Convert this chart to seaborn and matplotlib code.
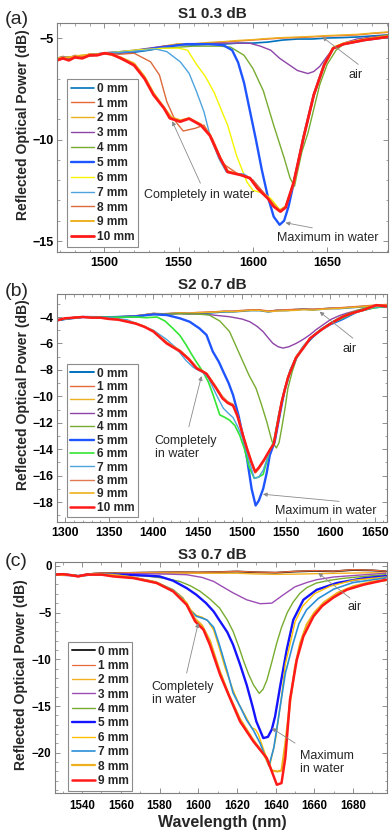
import matplotlib
matplotlib.use('Agg')
import pandas as pd
import matplotlib.pyplot as plt
from matplotlib.ticker import MultipleLocator
import seaborn as sns

## ---------------- panel (a): S1 0.3 dB ----------------
A_WL_AIR = [1468, 1472, 1476, 1480, 1485, 1490, 1495, 1500, 1510, 1520, 1530, 1540, 1550, 1560,
            1570, 1580, 1590, 1600, 1610, 1620, 1630, 1640, 1650, 1660, 1670, 1680, 1691]
A_DB_0MM = [-6.05, -5.95, -6.05, -5.9, -5.95, -5.8, -5.85, -5.75, -5.75, -5.7, -5.6, -5.45, -5.3, -5.35,
            -5.3, -5.3, -5.25, -5.25, -5.2, -5.1, -5.05, -5.05, -5.0, -4.98, -4.95, -4.9, -4.85]
A_DB_1MM = [-6.0, -5.9, -6.0, -5.85, -5.9, -5.8, -5.8, -5.75, -5.7, -5.65, -5.55, -5.4, -5.3, -5.3,
            -5.25, -5.2, -5.15, -5.1, -5.05, -5.0, -4.98, -4.95, -4.9, -4.88, -4.85, -4.78, -4.72]
A_DB_2MM = [-6.0, -5.92, -5.98, -5.88, -5.9, -5.78, -5.8, -5.72, -5.7, -5.62, -5.52, -5.4, -5.28, -5.28,
            -5.22, -5.18, -5.12, -5.08, -5.02, -4.98, -4.95, -4.92, -4.88, -4.85, -4.82, -4.76, -4.7]
A_WL_3MM = [1468, 1476, 1485, 1495, 1500, 1520, 1540, 1560, 1580, 1598, 1605, 1612, 1618, 1624,
            1630, 1637, 1641, 1645, 1650, 1655, 1661, 1670, 1680, 1691]
A_DB_3MM = [-6.0, -6.0, -5.9, -5.85, -5.75, -5.6, -5.4, -5.3, -5.25, -5.26, -5.4, -5.6, -6.0, -6.3,
            -6.6, -6.75, -6.65, -6.4, -5.9, -5.45, -5.25, -5.05, -4.95, -4.85]
A_WL_4MM = [1468, 1476, 1485, 1495, 1500, 1520, 1540, 1560, 1578, 1585, 1594, 1600, 1607, 1614,
            1621, 1625, 1628, 1630, 1633, 1637, 1641, 1645, 1650, 1656, 1661, 1670, 1680, 1691]
A_DB_4MM = [-6.0, -6.0, -5.9, -5.85, -5.75, -5.65, -5.5, -5.4, -5.4, -5.45, -5.85, -6.5, -7.6, -9.3,
            -10.9, -11.9, -12.3, -11.6, -10.6, -9.7, -8.5, -7.3, -6.3, -5.6, -5.3, -5.15, -5.0, -4.85]
A_WL_5MM = [1468, 1476, 1485, 1495, 1500, 1520, 1540, 1555, 1570, 1580, 1586, 1590, 1594, 1598, 1602,
            1606, 1610, 1614, 1618, 1621, 1624, 1627, 1630, 1634, 1641, 1648, 1654, 1661, 1675, 1691]
A_DB_5MM = [-6.0, -5.95, -5.9, -5.8, -5.75, -5.65, -5.45, -5.3, -5.3, -5.35, -5.6, -6.2, -7.2, -8.6, -10.0,
            -11.5, -12.8, -13.8, -14.2, -14.0, -13.3, -12.3, -11.3, -9.9, -7.8, -6.3, -5.5, -5.3, -5.1, -4.95]
A_WL_6MM = [1468, 1476, 1485, 1495, 1500, 1520, 1540, 1550, 1556, 1562, 1568, 1574, 1579, 1583, 1589,
            1596, 1600, 1607, 1612, 1618, 1622, 1627, 1634, 1641, 1648, 1654, 1661, 1675, 1691]
A_DB_6MM = [-6.0, -5.95, -5.9, -5.8, -5.75, -5.6, -5.5, -5.5, -5.6, -6.3, -6.9, -7.7, -8.6, -9.3, -10.8,
            -12.1, -12.5, -12.65, -12.9, -13.45, -13.3, -12.2, -9.9, -7.8, -6.3, -5.45, -5.25, -5.05, -4.9]
A_WL_7MM = [1468, 1476, 1485, 1495, 1500, 1520, 1535, 1542, 1551, 1557, 1562, 1567, 1571, 1577, 1582,
            1587, 1594, 1600, 1609, 1618, 1622, 1627, 1634, 1641, 1648, 1654, 1661, 1675, 1691]
A_DB_7MM = [-6.0, -5.95, -5.9, -5.8, -5.75, -5.65, -5.55, -5.67, -6.17, -6.74, -7.64, -8.63, -9.78, -10.93, -11.59,
            -11.67, -11.7, -12.0, -12.8, -13.5, -13.3, -12.2, -9.9, -7.8, -6.3, -5.5, -5.3, -5.1, -4.95]
A_WL_8MM = [1468, 1476, 1485, 1495, 1500, 1510, 1520, 1531, 1537, 1542, 1548, 1553, 1561, 1567, 1573,
            1580, 1590, 1600, 1610, 1618, 1622, 1627, 1634, 1641, 1648, 1654, 1661, 1675, 1691]
A_DB_8MM = [-6.0, -5.95, -5.9, -5.8, -5.75, -5.8, -5.75, -6.17, -6.82, -8.14, -9.12, -9.58, -9.45, -9.29, -10.0,
            -11.2, -11.7, -12.0, -12.85, -13.5, -13.35, -12.2, -9.9, -7.8, -6.3, -5.5, -5.3, -5.1, -4.95]
A_WL_9MM = [1468, 1476, 1485, 1495, 1500, 1511, 1520, 1527, 1533, 1540, 1545, 1551, 1557, 1565, 1571, 1578,
            1583, 1592, 1598, 1603, 1610, 1618, 1622, 1628, 1634, 1641, 1648, 1654, 1661, 1675, 1691]
A_DB_9MM = [-6.0, -5.95, -5.85, -5.8, -5.75, -5.95, -6.25, -6.9, -7.7, -8.4, -8.9, -9.05, -8.95, -9.25, -9.75, -10.9,
            -11.55, -11.75, -11.9, -12.4, -12.85, -13.5, -13.3, -12.1, -9.9, -7.8, -6.3, -5.5, -5.3, -5.1, -4.95]
A_WL_10MM = [1468, 1472, 1476, 1480, 1485, 1490, 1495, 1500, 1505, 1511, 1515, 1520, 1527, 1533, 1540, 1544,
             1551, 1557, 1565, 1571, 1578, 1583, 1592, 1598, 1603, 1610, 1614, 1618.5, 1622, 1627.5, 1634,
             1641, 1648, 1654, 1661, 1675, 1691]
A_DB_10MM = [-6.1, -6.0, -6.1, -5.95, -6.0, -5.85, -5.85, -5.75, -5.8, -6.0, -6.15, -6.35, -7.0, -7.8, -8.45, -8.95,
             -9.12, -8.97, -9.3, -9.8, -10.93, -11.6, -11.75, -11.9, -12.4, -12.9, -13.3, -13.55, -13.35, -12.1, -9.94,
             -7.8, -6.33, -5.51, -5.3, -5.1, -4.94]

## ---------------- panel (b): S2 0.7 dB ----------------
B_WL_AIR = [1291, 1300, 1310, 1320, 1330, 1340, 1350, 1360, 1370, 1380, 1390, 1400, 1410, 1420, 1430, 1440,
            1450, 1460, 1470, 1480, 1490, 1500, 1510, 1520, 1530, 1540, 1550, 1560, 1570, 1580, 1590, 1600,
            1610, 1620, 1630, 1640, 1650, 1664]
B_DB_0MM = [-4.25, -4.15, -4.05, -4.0, -4.0, -4.0, -4.02, -4.0, -3.98, -3.95, -3.85, -3.75, -3.8, -3.75, -3.7, -3.75,
            -3.7, -3.7, -3.65, -3.6, -3.6, -3.55, -3.5, -3.5, -3.6, -3.5, -3.5, -3.45, -3.4, -3.45, -3.4, -3.35,
            -3.35, -3.3, -3.25, -3.2, -3.15, -3.1]
B_DB_1MM = [-4.2, -4.12, -4.02, -4.0, -3.98, -4.0, -4.0, -3.98, -3.95, -3.9, -3.82, -3.72, -3.75, -3.72, -3.68, -3.7,
            -3.65, -3.62, -3.6, -3.55, -3.55, -3.5, -3.45, -3.45, -3.55, -3.48, -3.45, -3.42, -3.4, -3.4, -3.38, -3.32,
            -3.3, -3.25, -3.2, -3.15, -3.1, -3.05]
B_DB_2MM = [-4.22, -4.14, -4.04, -3.99, -3.99, -4.01, -4.01, -3.99, -3.96, -3.92, -3.84, -3.74, -3.77, -3.74, -3.7, -3.72,
            -3.68, -3.66, -3.63, -3.58, -3.6, -3.55, -3.5, -3.5, -3.6, -3.55, -3.52, -3.5, -3.45, -3.48, -3.42, -3.38,
            -3.35, -3.3, -3.25, -3.2, -3.15, -3.12]
B_WL_3MM = [1291, 1300, 1320, 1350, 1380, 1400, 1430, 1460, 1486, 1500, 1509, 1517, 1524, 1530, 1535,
            1541, 1546.5, 1553, 1561.5, 1569, 1576.5, 1584, 1591.5, 1600, 1610, 1618, 1630, 1644, 1664]
B_DB_3MM = [-4.25, -4.15, -4.0, -4.02, -3.95, -3.8, -3.75, -3.8, -3.98, -4.15, -4.36, -4.7, -5.11, -5.6, -5.99,
            -6.25, -6.35, -6.25, -5.99, -5.7, -5.36, -4.95, -4.6, -4.2, -3.9, -3.72, -3.5, -3.34, -3.2]
B_WL_4MM = [1291, 1300, 1320, 1350, 1380, 1400, 1430, 1450, 1463, 1475, 1486, 1498, 1508, 1516, 1522, 1528, 1534,
            1539, 1542, 1545, 1549, 1552, 1557, 1562, 1570, 1580, 1590, 1600, 1610, 1620, 1630, 1640, 1650, 1664]
B_DB_4MM = [-4.25, -4.15, -4.0, -4.02, -3.95, -3.8, -3.75, -3.78, -3.85, -4.3, -5.1, -6.9, -8.4, -9.4, -10.6, -11.9, -13.4,
            -13.9, -13.5, -12.4, -10.8, -9.4, -8.1, -7.1, -6.3, -5.5, -4.9, -4.45, -4.05, -3.75, -3.5, -3.3, -3.2, -3.15]
B_WL_5MM = [1291, 1300, 1320, 1350, 1380, 1400, 1415, 1430, 1441, 1452, 1460, 1467, 1474, 1479, 1485, 1490, 1496,
            1501, 1506, 1511, 1515.5, 1519, 1524, 1528, 1531.5, 1537, 1543, 1548, 1555, 1562, 1570, 1580, 1590,
            1600, 1614, 1630, 1650, 1664]
B_DB_5MM = [-4.25, -4.15, -4.0, -4.02, -3.95, -3.8, -3.85, -4.1, -4.36, -4.86, -5.36, -6.6, -7.4, -8.14, -9.0, -9.9, -11.4,
            -12.94, -14.8, -17.0, -18.25, -17.9, -17.0, -15.8, -14.45, -13.45, -11.3, -9.6, -8.0, -7.0, -6.2, -5.5, -4.95,
            -4.55, -4.15, -3.6, -3.25, -3.2]
B_WL_6MM = [1291, 1300, 1320, 1350, 1380, 1392, 1404, 1413, 1422, 1430, 1437, 1443, 1448.5, 1456, 1462, 1467.5,
            1475, 1481, 1486, 1492, 1497.5, 1503, 1508, 1514, 1519, 1524, 1531, 1536, 1542, 1548, 1555, 1562,
            1570, 1580, 1590, 1600, 1614, 1630, 1650, 1664]
B_DB_6MM = [-4.25, -4.15, -4.0, -4.02, -4.0, -4.05, -4.0, -4.3, -4.86, -5.4, -6.12, -6.8, -7.39, -8.14, -8.9, -9.9,
            -11.4, -11.6, -11.8, -12.2, -12.94, -14.0, -15.3, -16.2, -16.1, -15.9, -14.2, -13.4, -11.3, -9.6, -8.0, -7.0,
            -6.2, -5.45, -4.9, -4.5, -4.1, -3.6, -3.3, -3.2]
B_WL_7MM = [1291, 1300, 1320, 1350, 1370, 1385, 1400, 1415, 1425, 1437, 1445, 1450, 1456, 1462, 1467, 1472,
            1479, 1485, 1490, 1496, 1501, 1507, 1514, 1519, 1524, 1531, 1536, 1542, 1548, 1555, 1562, 1570,
            1580, 1590, 1600, 1614, 1630, 1650, 1664]
B_DB_7MM = [-4.25, -4.15, -4.0, -4.05, -4.2, -4.6, -5.0, -5.7, -6.3, -7.3, -7.8, -8.0, -8.2, -8.6, -9.3, -10.0,
            -10.9, -11.3, -11.6, -12.4, -13.2, -14.6, -16.2, -16.1, -15.6, -14.2, -13.5, -11.2, -9.5, -8.0, -7.0, -6.2,
            -5.45, -4.9, -4.5, -4.05, -3.6, -3.25, -3.2]
B_WL_WET = [1291, 1300, 1310, 1320, 1330, 1340, 1350, 1360, 1370, 1380, 1390, 1400, 1415, 1430, 1440, 1449,
            1455, 1460, 1466, 1471, 1478, 1484, 1490, 1495, 1501, 1506, 1511, 1515, 1519, 1525, 1532, 1536,
            1540, 1545, 1552, 1561, 1570, 1577, 1585, 1592, 1600, 1614, 1625, 1637, 1652, 1664]
B_DB_8MM = [-4.25, -4.1, -4.05, -4.0, -4.05, -4.05, -4.12, -4.18, -4.3, -4.45, -4.7, -5.05, -5.9, -6.5, -7.1, -7.8,
            -8.05, -8.25, -8.8, -9.3, -10.0, -10.4, -10.6, -11.4, -12.8, -14.0, -15.1, -15.8, -15.5, -14.9, -14.0, -13.6,
            -12.1, -10.3, -8.5, -7.0, -6.2, -5.6, -5.2, -4.9, -4.55, -4.0, -3.72, -3.5, -3.15, -3.22]
B_DB_9MM = [-4.25, -4.1, -4.05, -4.0, -4.05, -4.05, -4.14, -4.2, -4.32, -4.48, -4.72, -5.08, -5.95, -6.55, -7.15, -7.85,
            -8.08, -8.28, -8.85, -9.35, -10.1, -10.45, -10.65, -11.45, -12.85, -14.0, -15.05, -15.75, -15.45, -14.85, -14.0, -13.6,
            -12.15, -10.35, -8.55, -7.05, -6.25, -5.6, -5.2, -4.88, -4.52, -3.99, -3.71, -3.48, -3.12, -3.21]
B_DB_10MM = [-4.25, -4.1, -4.05, -4.0, -4.05, -4.05, -4.15, -4.2, -4.35, -4.5, -4.75, -5.1, -6.0, -6.6, -7.2, -7.9,
             -8.1, -8.3, -8.9, -9.4, -10.15, -10.5, -10.7, -11.5, -12.9, -14.0, -15.0, -15.7, -15.4, -14.8, -14.0, -13.6,
             -12.2, -10.4, -8.6, -7.1, -6.3, -5.62, -5.2, -4.86, -4.5, -3.98, -3.7, -3.47, -3.1, -3.2]

## ---------------- panel (c): S3 0.7 dB ----------------
C_WL_AIR = [1526, 1530, 1534, 1538, 1542, 1546, 1550, 1556, 1562, 1570, 1580, 1590, 1600, 1610, 1620,
            1630, 1640, 1650, 1660, 1670, 1680, 1690, 1697]
C_DB_0MM = [-0.95, -0.9, -1.0, -1.1, -0.95, -0.85, -0.8, -0.8, -0.78, -0.75, -0.72, -0.7, -0.72, -0.68, -0.62,
            -0.7, -0.75, -0.62, -0.55, -0.6, -0.45, -0.5, -0.6]
C_DB_1MM = [-0.92, -0.88, -0.98, -1.08, -0.92, -0.82, -0.78, -0.78, -0.75, -0.72, -0.7, -0.68, -0.7, -0.66, -0.6,
            -0.68, -0.72, -0.6, -0.52, -0.58, -0.42, -0.48, -0.58]
C_DB_2MM = [-0.97, -0.92, -1.02, -1.12, -0.98, -0.88, -0.85, -0.85, -0.82, -0.8, -0.78, -0.78, -0.8, -0.8, -0.8,
            -0.88, -0.92, -0.9, -0.85, -0.82, -0.78, -0.75, -0.78]
C_WL_3MM = [1526, 1534, 1538, 1546, 1556, 1570, 1585, 1594, 1602, 1608, 1613, 1618, 1625, 1632, 1638, 1644,
            1650, 1656, 1661, 1670, 1680, 1697]
C_DB_3MM = [-0.95, -1.0, -1.1, -0.85, -0.85, -0.85, -0.9, -0.96, -1.25, -1.68, -2.3, -2.9, -3.64, -4.06, -4.0, -3.1,
            -2.25, -1.8, -1.5, -1.2, -1.05, -0.8]
C_WL_4MM = [1526, 1534, 1538, 1546, 1556, 1566, 1575, 1583, 1590.5, 1596, 1601, 1606, 1611, 1615, 1618, 1621,
            1623.5, 1626, 1628.5, 1631.5, 1633.5, 1635.5, 1638, 1640.5, 1643, 1646, 1649, 1652.5, 1656, 1661,
            1668, 1675, 1685, 1697]
C_DB_4MM = [-0.95, -1.0, -1.1, -0.9, -0.9, -1.0, -1.15, -1.35, -1.68, -2.15, -2.74, -3.55, -4.52, -5.8, -7.02, -8.7,
            -10.23, -11.6, -12.73, -13.65, -13.2, -12.2, -10.3, -8.3, -6.6, -5.0, -3.9, -2.95, -2.35, -1.85,
            -1.55, -1.35, -1.15, -0.95]
C_WL_5MM = [1526, 1534, 1538, 1546, 1556, 1566, 1573, 1580, 1587, 1594, 1599, 1604, 1608, 1611.3, 1615, 1618,
            1621.5, 1625, 1628, 1630, 1633.6, 1636, 1638, 1639.7, 1642.3, 1645.7, 1649.1, 1654.3, 1661.2, 1671.5,
            1685, 1697]
C_DB_5MM = [-0.95, -1.0, -1.1, -0.9, -0.95, -1.0, -1.05, -1.14, -1.6, -2.39, -3.1, -3.99, -4.9, -5.95, -7.1, -8.45,
            -10.5, -12.73, -15.0, -16.65, -18.43, -18.3, -17.5, -16.1, -12.9, -8.98, -5.78, -3.64, -2.57, -1.85,
            -1.35, -1.1]
C_WL_6MM = [1526, 1534, 1538, 1546, 1556, 1566, 1578, 1587, 1592, 1596, 1599, 1602, 1605, 1608, 1611, 1614,
            1618, 1621, 1625, 1627.5, 1629.5, 1631, 1634, 1637, 1640, 1643, 1645, 1647.5, 1650, 1654, 1660,
            1668, 1680, 1697]
C_DB_6MM = [-0.95, -1.0, -1.1, -0.9, -0.95, -1.2, -1.7, -2.55, -3.4, -4.7, -5.3, -5.5, -5.9, -6.9, -8.9, -11.0,
            -13.3, -14.8, -16.3, -17.3, -17.5, -18.0, -19.8, -21.3, -18.5, -14.0, -10.5, -8.3, -6.0, -4.3, -3.0,
            -2.2, -1.55, -1.2]
C_WL_7MM = [1526, 1534, 1538, 1546, 1556, 1566, 1578, 1587, 1592, 1596, 1599, 1602, 1604.5, 1608, 1611, 1614.7,
            1618, 1621.6, 1625, 1628.5, 1632, 1636.5, 1639, 1642, 1645, 1649, 1652, 1656, 1662, 1670, 1680, 1697]
C_DB_7MM = [-0.95, -1.0, -1.1, -0.9, -0.95, -1.25, -1.75, -2.6, -3.5, -4.8, -5.4, -5.6, -5.8, -6.6, -8.5, -11.1,
            -13.6, -15.05, -16.5, -17.6, -19.0, -21.4, -19.5, -15.5, -11.5, -8.3, -6.2, -4.7, -3.5, -2.5, -1.8, -1.3]
C_WL_8MM = [1526, 1534, 1538, 1546, 1556, 1566, 1578, 1587, 1594, 1598, 1602, 1606, 1611, 1616, 1621.6, 1628,
            1634, 1638, 1641, 1643, 1645, 1647.5, 1650, 1652.6, 1656, 1660, 1665, 1672, 1680, 1690, 1697]
C_DB_8MM = [-0.95, -1.0, -1.1, -0.9, -1.0, -1.25, -1.8, -2.7, -4.0, -5.6, -6.4, -8.0, -11.2, -13.9, -16.4, -18.5,
            -20.2, -21.9, -22.0, -21.9, -19.0, -14.5, -10.8, -8.3, -6.3, -5.0, -3.9, -2.9, -2.2, -1.7, -1.55]
C_WL_9MM = [1526, 1530, 1534, 1538, 1542, 1550, 1556, 1566.5, 1578.6, 1587, 1594, 1598.4, 1602.7, 1606, 1611.3,
            1616.4, 1621.6, 1628.5, 1635.4, 1640.6, 1643, 1645, 1647.4, 1650.9, 1654.3, 1659.5, 1664, 1669.8,
            1676.7, 1685.3, 1697]
C_DB_9MM = [-0.95, -0.9, -1.0, -1.15, -0.95, -0.95, -1.14, -1.32, -1.85, -2.74, -4.17, -5.95, -6.84, -8.45, -11.66,
            -14.15, -16.65, -18.79, -20.57, -23.42, -23.24, -20.5, -14.3, -10.05, -7.56, -5.42, -4.3, -3.4,
            -2.57, -2.03, -1.5]

# (label, wavelengths, power, colour, linewidth)
panel_a = [('0 mm', A_WL_AIR, A_DB_0MM, '#0072BD', 1.2), ('1 mm', A_WL_AIR, A_DB_1MM, '#E8683A', 1.0),
           ('2 mm', A_WL_AIR, A_DB_2MM, '#EDB120', 1.0), ('3 mm', A_WL_3MM, A_DB_3MM, '#8E44A8', 1.0),
           ('4 mm', A_WL_4MM, A_DB_4MM, '#77AC30', 1.0), ('5 mm', A_WL_5MM, A_DB_5MM, '#1F55FF', 1.7),
           ('6 mm', A_WL_6MM, A_DB_6MM, '#F5F500', 1.0), ('7 mm', A_WL_7MM, A_DB_7MM, '#4DA3DE', 1.0),
           ('8 mm', A_WL_8MM, A_DB_8MM, '#DD6A3A', 1.0), ('9 mm', A_WL_9MM, A_DB_9MM, '#EDB120', 1.4),
           ('10 mm', A_WL_10MM, A_DB_10MM, '#FF1A1A', 2.0)]
panel_b = [('0 mm', B_WL_AIR, B_DB_0MM, '#0072BD', 1.4), ('1 mm', B_WL_AIR, B_DB_1MM, '#E8683A', 1.0),
           ('2 mm', B_WL_AIR, B_DB_2MM, '#EDB120', 1.0), ('3 mm', B_WL_3MM, B_DB_3MM, '#8E44A8', 1.0),
           ('4 mm', B_WL_4MM, B_DB_4MM, '#77AC30', 1.0), ('5 mm', B_WL_5MM, B_DB_5MM, '#1F55FF', 1.7),
           ('6 mm', B_WL_6MM, B_DB_6MM, '#33E633', 1.2), ('7 mm', B_WL_7MM, B_DB_7MM, '#4DA3DE', 1.0),
           ('8 mm', B_WL_WET, B_DB_8MM, '#E07A50', 1.0), ('9 mm', B_WL_WET, B_DB_9MM, '#EDB120', 1.2),
           ('10 mm', B_WL_WET, B_DB_10MM, '#FF1A1A', 1.8)]
panel_c = [('0 mm', C_WL_AIR, C_DB_0MM, '#222222', 1.4), ('1 mm', C_WL_AIR, C_DB_1MM, '#E8683A', 0.9),
           ('2 mm', C_WL_AIR, C_DB_2MM, '#F5B01E', 1.0), ('3 mm', C_WL_3MM, C_DB_3MM, '#9B4DB5', 1.0),
           ('4 mm', C_WL_4MM, C_DB_4MM, '#77AC30', 1.0), ('5 mm', C_WL_5MM, C_DB_5MM, '#1414FF', 1.7),
           ('6 mm', C_WL_6MM, C_DB_6MM, '#FFC000', 1.0), ('7 mm', C_WL_7MM, C_DB_7MM, '#2A8FD6', 1.2),
           ('8 mm', C_WL_8MM, C_DB_8MM, '#EDB120', 1.6), ('9 mm', C_WL_9MM, C_DB_9MM, '#FF1A1A', 1.8)]

sns.set_style('ticks')
plt.rcParams['font.family'] = ['Liberation Sans', 'DejaVu Sans']
plt.rcParams['xtick.direction'] = 'in'
plt.rcParams['ytick.direction'] = 'in'
plt.rcParams['xtick.top'] = True
plt.rcParams['ytick.right'] = True

W, H = 392, 833
fig = plt.figure(figsize=(W / 100, H / 100), dpi=100)


def add_axes(left, top, right, bottom):
    return fig.add_axes([left / W, 1 - bottom / H, (right - left) / W, (bottom - top) / H])


def draw_curves(ax, curves):
    for label, wl, db, color, lw in curves:
        df = pd.DataFrame({'wl': wl, 'db': db})
        sns.lineplot(data=df, x='wl', y='db', color=color, lw=lw, label=label, ax=ax,
                     sort=False, estimator=None)


def style_axes(ax, xlim, ylim, xmaj, ymaj, tick_size, legend_anchor, label_spacing, xpad=3.5):
    ax.set_xlim(*xlim)
    ax.set_ylim(*ylim)
    ax.xaxis.set_major_locator(MultipleLocator(xmaj))
    ax.yaxis.set_major_locator(MultipleLocator(ymaj))
    ax.xaxis.set_minor_locator(MultipleLocator(10))
    ax.yaxis.set_minor_locator(MultipleLocator(1))
    ax.set_xlabel('')
    ax.set_ylabel('')
    for s in ax.spines.values():
        s.set_color('#7f7f7f')
        s.set_linewidth(0.8)
    ax.tick_params(which='both', colors='#7f7f7f', labelcolor='black', top=True, right=True)
    ax.tick_params(which='major', length=3.5, width=0.6, labelsize=tick_size)
    ax.tick_params(axis='x', which='major', pad=xpad)
    ax.tick_params(axis='y', which='major', pad=2.5)
    ax.tick_params(which='minor', length=1.8, width=0.5)
    for t in ax.get_xticklabels() + ax.get_yticklabels():
        t.set_fontweight('bold')
    leg = ax.legend(loc='upper left', bbox_to_anchor=legend_anchor, borderaxespad=0,
                    fancybox=False, framealpha=1, edgecolor='#8c8c8c',
                    prop={'weight': 'bold', 'size': 8.6}, handlelength=2.0,
                    handletextpad=0.2, labelspacing=label_spacing, borderpad=0.3)
    leg.get_frame().set_linewidth(0.8)


def note(ax, text, xy_text, tail, tip, ha='center', size=9):
    ax.text(*xy_text, text, ha=ha, va='center', fontsize=size, color='#262626', linespacing=1.1)
    ax.annotate('', xy=tip, xytext=tail,
                arrowprops=dict(arrowstyle='-|>', color='#8a8a8a', lw=0.6, mutation_scale=6,
                                shrinkA=0, shrinkB=0))


# ---- (a)
ax_a = add_axes(57, 23, 388, 252)
draw_curves(ax_a, panel_a)
style_axes(ax_a, (1468, 1691), (-15.54, -4.26), 50, 5, 9, (0.030, 0.755), 0.24)
note(ax_a, 'air', (1669, -6.8), (1671, -6.3), (1646.8, -4.95))
note(ax_a, 'Completely in water', (1564, -12.75), (1564.6, -12.15), (1545.6, -9.1))
note(ax_a, 'Maximum in water', (1650.5, -14.85), (1640, -14.35), (1622, -14.1))

# ---- (b)
ax_b = add_axes(57, 294, 387, 522)
draw_curves(ax_b, panel_b)
style_axes(ax_b, (1291, 1664), (-19.5, -2.26), 50, 2, 8.8, (0.030, 0.693), 0.12)
note(ax_b, 'air', (1621.7, -6.42), (1625.4, -5.6), (1587.8, -3.6))
note(ax_b, 'Completely\nin water', (1401.6, -13.85), (1440, -12.3), (1454.3, -8.47), ha='left')
note(ax_b, 'Maximum in water', (1595.3, -18.67), (1610, -17.94), (1523.8, -17.4))

# ---- (c)
ax_c = add_axes(55, 562, 387, 793)
draw_curves(ax_c, panel_c)
style_axes(ax_c, (1526, 1697.5), (-24.3, 0.4), 20, 5, 8.3, (0.039, 0.654), 0.2, xpad=5)
note(ax_c, 'air', (1681, -4.42), (1678.4, -3.46), (1662, -0.78))
note(ax_c, 'Completely\nin water', (1576, -13.7), (1594, -11.48), (1600, -6.13), ha='left')
note(ax_c, 'Maximum\nin water', (1652.6, -21.05), (1650, -18.97), (1638, -17.36), ha='left')

# titles, panel letters and axis labels placed like the source figure
for letter, title, y_title, y_letter, y_ylab, x_ylab in [('(a)', 'S1 0.3 dB', 14, 19, 125, 23),
                                                         ('(b)', 'S2 0.7 dB', 285, 291, 395, 23),
                                                         ('(c)', 'S3 0.7 dB', 555, 562, 675, 21)]:
    fig.text(212 / W, 1 - y_title / H, title, ha='center', va='center', fontsize=11, fontweight='bold')
    fig.text(5 / W, 1 - y_letter / H, letter, ha='left', va='center', fontsize=14)
    fig.text(x_ylab / W, 1 - y_ylab / H, 'Reflected Optical Power (dB)', rotation=90, ha='center',
             va='center', fontsize=10, fontweight='bold')
fig.text(222 / W, 1 - 823 / H, 'Wavelength (nm)', ha='center', va='center', fontsize=11.5, fontweight='bold')

fig.savefig('out.png', dpi=100, facecolor='white')
